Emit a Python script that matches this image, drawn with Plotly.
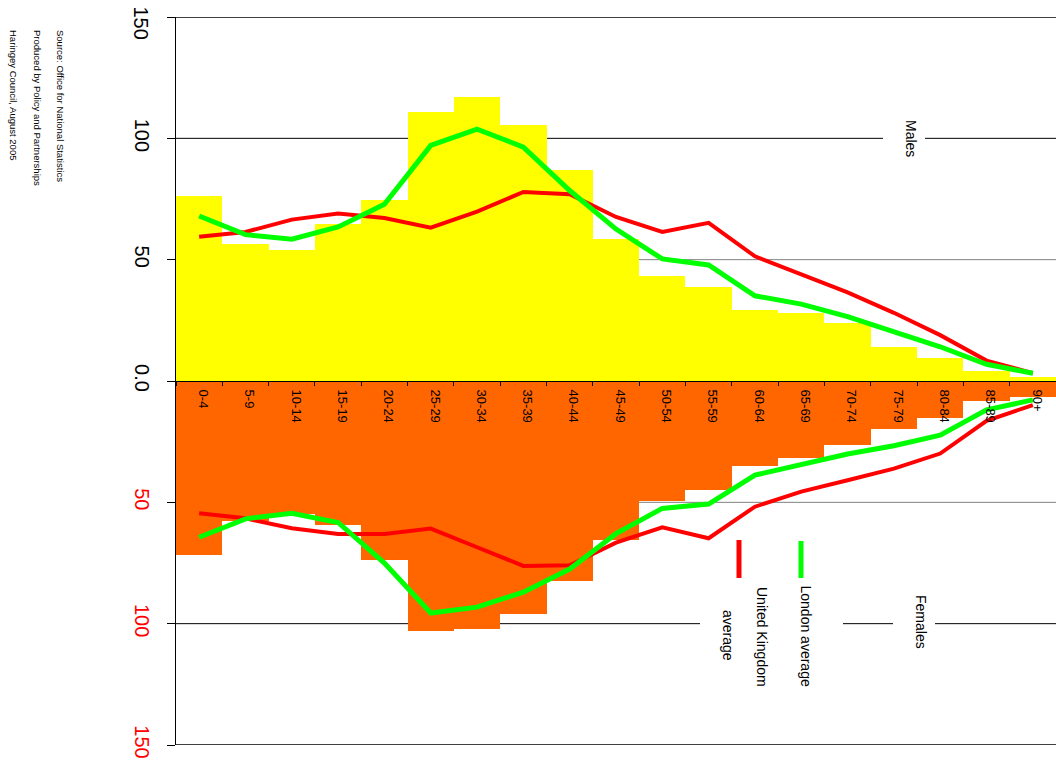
import plotly.graph_objects as go

age_groups = ["0-4", "5-9", "10-14", "15-19", "20-24", "25-29", "30-34", "35-39",
              "40-44", "45-49", "50-54", "55-59", "60-64", "65-69", "70-74",
              "75-79", "80-84", "85-89", "90+"]

males_haringey = [76.1, 56.4, 53.9, 64.6, 74.5, 110.7, 116.9, 105.3, 86.8, 58.4,
                  43.2, 38.7, 29.2, 28.0, 23.9, 14.0, 9.5, 4.1, 1.6]
females_haringey = [71.6, 57.5, 54.7, 59.3, 73.7, 103.2, 102.1, 95.9, 82.6, 65.4,
                    49.3, 45.1, 35.1, 31.8, 26.4, 19.8, 15.1, 8.2, 6.5]

males_uk = [59.4, 61.4, 66.5, 69.0, 67.2, 63.2, 69.8, 77.9, 77.0, 67.6,
            61.4, 65.2, 51.4, 44.0, 36.5, 28.1, 18.9, 8.4, 3.2]
females_uk = [54.5, 56.6, 60.7, 63.0, 63.0, 60.8, 68.5, 76.2, 75.9, 66.6,
              60.3, 64.8, 51.8, 45.6, 40.9, 36.1, 29.9, 16.4, 9.9]

males_london = [68.0, 60.3, 58.4, 63.5, 72.8, 97.1, 103.8, 96.4, 78.5, 62.6,
                50.3, 47.8, 35.1, 31.7, 26.5, 20.3, 14.1, 6.9, 3.2]
females_london = [64.4, 56.8, 54.5, 58.3, 75.0, 95.6, 93.2, 87.0, 77.5, 62.9,
                  52.5, 50.7, 38.8, 34.3, 30.1, 26.7, 22.3, 11.9, 7.8]

y_tick_vals = [-150, -100, -50, 0, 50, 100, 150]
y_tick_text = ['<span style="color:#FF0000">150</span>',
               '<span style="color:#FF0000">100</span>',
               '<span style="color:#FF0000">50</span>',
               '0.0', '50', '100', '']
y_top_label = "150"

W, H = 1056, 766
ML, MR, MT, MB = 176, 0, 17, 21
PW, PH = W - ML - MR, H - MT - MB


def px2x(px):
    return (px - ML) / PW


def py2y(py):
    return (H - MB - py) / PH


FONT = "Liberation Sans, Arial, sans-serif"

fig = go.Figure()
fig.add_trace(go.Bar(x=age_groups, y=males_haringey, marker=dict(color="#FFFF00", line=dict(width=0)),
                     name="Males", showlegend=False))
fig.add_trace(go.Bar(x=age_groups, y=[-v for v in females_haringey],
                     marker=dict(color="#FF6600", line=dict(width=0)),
                     name="Females", showlegend=False))
fig.add_trace(go.Scatter(x=age_groups, y=males_uk, mode="lines",
                         line=dict(color="#FF0000", width=4), showlegend=False))
fig.add_trace(go.Scatter(x=age_groups, y=[-v for v in females_uk], mode="lines",
                         line=dict(color="#FF0000", width=4), showlegend=False))
fig.add_trace(go.Scatter(x=age_groups, y=males_london, mode="lines",
                         line=dict(color="#00FF00", width=5), showlegend=False))
fig.add_trace(go.Scatter(x=age_groups, y=[-v for v in females_london], mode="lines",
                         line=dict(color="#00FF00", width=5), showlegend=False))

shapes = []
grid_colors = {150: "#404040", 100: "#000000", 50: "#808080",
               -50: "#808080", -100: "#000000", -150: "#404040"}
for v, c in grid_colors.items():
    shapes.append(dict(type="line", xref="paper", yref="y", x0=0, x1=1, y0=v, y1=v,
                       line=dict(color=c, width=2 if abs(v) == 150 else 1), layer="below"))
# white boxes behind labels / legend (breaking the gridlines)
for (x0, x1, y0, y1) in [(883, 925, 100, 175), (893, 935, 590, 660), (700, 843, 600, 700)]:
    shapes.append(dict(type="rect", xref="paper", yref="paper",
                       x0=px2x(x0), x1=px2x(x1), y0=py2y(y1), y1=py2y(y0),
                       fillcolor="white", line=dict(width=0), layer="below"))
# legend symbols
shapes.append(dict(type="line", xref="paper", yref="paper", x0=px2x(739), x1=px2x(739),
                   y0=py2y(578), y1=py2y(540), line=dict(color="#FF0000", width=5)))
shapes.append(dict(type="line", xref="paper", yref="paper", x0=px2x(801), x1=px2x(801),
                   y0=py2y(578), y1=py2y(541), line=dict(color="#00FF00", width=5)))

annotations = []


def rot_text(text, px, py, size, yanchor="middle"):
    annotations.append(dict(text=text, xref="paper", yref="paper", x=px2x(px), y=py2y(py),
                            xanchor="center", yanchor=yanchor, textangle=90, showarrow=False,
                            font=dict(family=FONT, size=size, color="black")))


rot_text(y_top_label, 141, 4, 20, "top")
rot_text("Males", 911, 138, 14)
rot_text("Females", 921, 622, 14)
rot_text("United Kingdom", 762, 585, 14, "top")
rot_text("average", 728, 635, 14)
rot_text("London average", 806, 583, 14, "top")
rot_text("Source: Office for National Statistics", 60, 28, 9.5, "top")
rot_text("Produced by Policy and Partnerships", 37, 28, 9.5, "top")
rot_text("Haringey Council, August 2005", 13, 28, 9.5, "top")

fig.update_layout(
    width=W, height=H,
    margin=dict(l=ML, r=MR, t=MT, b=MB, pad=0, autoexpand=False),
    paper_bgcolor="white", plot_bgcolor="white",
    barmode="overlay", bargap=0,
    font=dict(family=FONT, color="black"),
    shapes=shapes, annotations=annotations,
    showlegend=False,
    xaxis=dict(type="category", anchor="free", position=0.5, side="bottom",
               tickangle=90, tickfont=dict(size=13, family=FONT, color="black"),
               ticks="outside", tickson="boundaries", ticklen=4, tickcolor="black",
               ticklabelstandoff=5, ticklabelshift=4, automargin=False,
               showline=True, linecolor="black", linewidth=1,
               showgrid=False, zeroline=False, range=[-0.5, 18.5]),
    yaxis=dict(range=[-150, 150], tickvals=y_tick_vals, ticktext=y_tick_text,
               tickangle=90, tickfont=dict(size=20, family=FONT, color="black"),
               ticks="outside", ticklen=8, tickcolor="black", ticklabelstandoff=8,
               ticklabeloverflow="allow", automargin=False,
               showline=True, linecolor="black", linewidth=1,
               showgrid=False, zeroline=False),
)

fig.write_html("out.html", config={"displayModeBar": False},
               post_script="document.body.style.margin='0';")
